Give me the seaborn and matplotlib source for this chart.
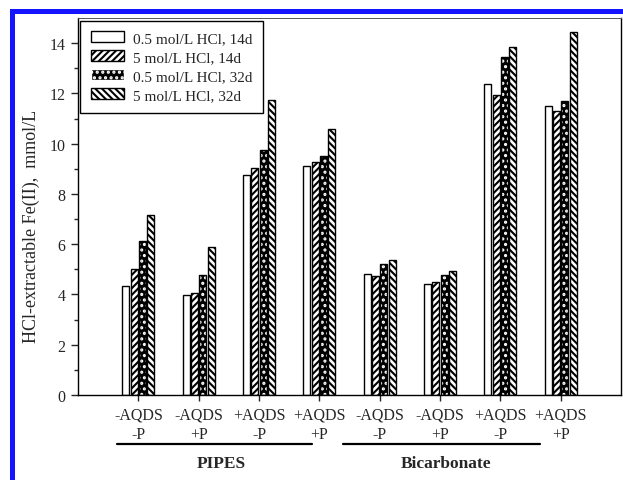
import numpy as np
import pandas as pd
import matplotlib
matplotlib.use("Agg")
import matplotlib.pyplot as plt
import seaborn as sns
from matplotlib.patches import Patch, Rectangle
from matplotlib.lines import Line2D

# ---- data ----
categories = ["PIPES -AQDS -P", "PIPES -AQDS +P", "PIPES +AQDS -P", "PIPES +AQDS +P",
              "Bicarb -AQDS -P", "Bicarb -AQDS +P", "Bicarb +AQDS -P", "Bicarb +AQDS +P"]
tick_labels = ["-AQDS\n-P", "-AQDS\n+P", "+AQDS\n-P", "+AQDS\n+P",
               "-AQDS\n-P", "-AQDS\n+P", "+AQDS\n-P", "+AQDS\n+P"]
series = ["0.5 mol/L HCl, 14d", "5 mol/L HCl, 14d", "0.5 mol/L HCl, 32d", "5 mol/L HCl, 32d"]
hcl05_14d = [4.32, 3.96, 8.75, 9.13, 4.83, 4.40, 12.38, 11.49]
hcl5_14d = [5.03, 4.04, 9.04, 9.29, 4.73, 4.49, 11.95, 11.29]
hcl05_32d = [6.12, 4.76, 9.76, 9.50, 5.20, 4.76, 13.44, 11.69]
hcl5_32d = [7.18, 5.88, 11.73, 10.58, 5.36, 4.93, 13.84, 14.43]
group_names = ["PIPES", "Bicarbonate"]
y_ticks = [0, 2, 4, 6, 8, 10, 12, 14]

values = [hcl05_14d, hcl5_14d, hcl05_32d, hcl5_32d]
df = pd.DataFrame({
    "category": categories * 4,
    "series": [s for s in series for _ in categories],
    "value": [v for vals in values for v in vals],
})

sns.set_style("ticks")
plt.rcParams["font.family"] = ["Liberation Serif", "DejaVu Serif"]
plt.rcParams["hatch.linewidth"] = 1.5

fig = plt.figure(figsize=(6.23, 4.81), dpi=100)
ax = fig.add_axes([0.1252, 0.1767, 0.8716, 0.7838])

sns.barplot(data=df, x="category", y="value", hue="series", order=categories,
            hue_order=series, palette=["white"] * 4, edgecolor="black", linewidth=1.0,
            width=0.55, gap=0.18, legend=False, ax=ax, saturation=1)

styles = [
    dict(face="white", edge="black", hatch=None),
    dict(face="white", edge="black", hatch="/////"),
    dict(face="black", edge="white", hatch="..."),
    dict(face="white", edge="black", hatch="\\\\\\\\\\"),
]
for cont, st in zip(ax.containers, styles):
    for p in cont.patches:
        p.set_facecolor(st["face"])
        if st["hatch"]:
            p.set_hatch(st["hatch"])
        p.set_edgecolor(st["edge"])
        if st["edge"] == "white":
            p.set_linewidth(0)
            ax.add_patch(Rectangle(p.get_xy(), p.get_width(), p.get_height(), fill=False,
                                   edgecolor="black", linewidth=1.0, zorder=p.get_zorder() + 0.1))

ax.set_xlim(-1, 8)
ax.set_ylim(0, 15)
ax.set_yticks(y_ticks)
ax.set_yticks(np.arange(1, 15, 2), minor=True)
ax.set_xticks(range(len(categories)))
ax.set_xticklabels(tick_labels, fontsize=11.5)
for lbl in ax.get_xticklabels():
    lbl.set_linespacing(1.3)
ax.tick_params(axis="y", which="major", length=5, width=1, labelsize=11.5, direction="out", pad=4)
ax.tick_params(axis="y", which="minor", length=3, width=1, direction="out")
ax.tick_params(axis="x", length=4, width=1, direction="out", pad=4)
ax.set_xlabel("")
ax.set_ylabel("HCl-extractable Fe(II),  mmol/L", fontsize=13)
ax.yaxis.set_label_coords(-0.07, 0.45)
for side in ["left", "bottom", "right"]:
    ax.spines[side].set_visible(True)
    ax.spines[side].set_linewidth(1.0)
    ax.spines[side].set_color("black")
ax.spines["top"].set_visible(True)
ax.spines["top"].set_linewidth(0.7)
ax.spines["top"].set_color("#555555")

# group underlines and names
trans = ax.get_xaxis_transform()
for (x0, x1), name, xc in zip([(-0.354, 2.874), (3.39, 6.65)], group_names, [1.38, 5.1]):
    ax.add_line(Line2D([x0, x1], [-0.13, -0.13], transform=trans, color="black",
                       linewidth=1.6, clip_on=False))
    ax.text(xc, -0.18, name, transform=trans, ha="center", va="center",
            fontsize=12.5, fontweight="bold")

handles = [Patch(facecolor=st["face"], edgecolor=st["edge"] if st["edge"] == "black" else "white",
                 hatch=st["hatch"], linewidth=1.0) for st in styles]
leg = ax.legend(handles, series, loc="upper left", bbox_to_anchor=(0.004, 0.993),
                borderaxespad=0, fontsize=11, frameon=True, fancybox=False, framealpha=1,
                edgecolor="black", handlelength=2.2, handleheight=0.7,
                labelspacing=0.35, borderpad=0.7, handletextpad=0.55)
leg.get_frame().set_linewidth(1.0)

# blue scan border
W, H = 623, 481
fig.patches.append(Rectangle((12 / W, 1 - 15 / H), 1, 5 / H, transform=fig.transFigure,
                             facecolor="#1414ff", edgecolor="none", zorder=10))
fig.patches.append(Rectangle((10 / W, 0), 5 / W, 1 - 10 / H, transform=fig.transFigure,
                             facecolor="#1414ff", edgecolor="none", zorder=10))

fig.savefig("out.png", dpi=100)
